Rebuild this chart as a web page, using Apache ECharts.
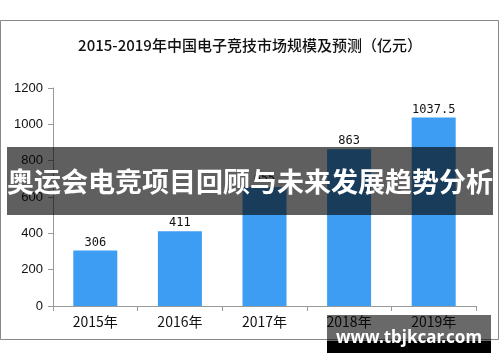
<!DOCTYPE html>
<html><head><meta charset="utf-8">
<script src="https://cdn.jsdelivr.net/npm/echarts@6/dist/echarts.min.js"></script>
<style>html,body{margin:0;padding:0;background:#fff}#c{width:500px;height:362px}</style>
</head><body><div id="c"></div>
<script>
const title = '2015-2019年中国电子竞技市场规模及预测（亿元）';
const categories = ['2015年','2016年','2017年','2018年','2019年'];
const values = [306, 411, 655, 863, 1037.5];
const yTicks = [0, 200, 400, 600, 800, 1000, 1200];
const bannerText = '奥运会电竞项目回顾与未来发展趋势分析';
const footerText = 'www.tbjkcar.com';

const chart = echarts.init(document.getElementById('c'), null, {renderer:'canvas'});
chart.setOption({
  animation:false,
  title:{text:title,left:'center',top:33,textStyle:{fontFamily:'Noto Sans CJK SC',fontSize:15,fontWeight:500,color:'#111'}},
  grid:{left:53,right:24,top:88,bottom:56},
  xAxis:{type:'category',data:categories,
    axisLine:{lineStyle:{color:'#999'}},
    axisTick:{show:true,length:5,lineStyle:{color:'#999'}},
    axisLabel:{color:'#111',fontSize:14,fontFamily:'Noto Sans CJK SC',margin:9}},
  yAxis:{type:'value',min:yTicks[0],max:yTicks[yTicks.length-1],interval:200,
    axisLine:{show:true,lineStyle:{color:'#999'}},
    axisTick:{show:true,length:5,lineStyle:{color:'#999'}},
    splitLine:{show:false},
    axisLabel:{color:'#111',fontSize:13,fontFamily:'Liberation Sans',margin:10,formatter:function(v){return String(v);}}},
  series:[{type:'bar',data:values,barWidth:'52%',
    itemStyle:{color:'#3d9df3'},
    label:{show:true,position:'top',distance:2,color:'#111',fontSize:12,fontFamily:'DejaVu Sans Mono'}}],
  graphic:[
    {type:'rect',z:-10,shape:{x:0.5,y:20.5,width:498,height:319},style:{fill:'none',stroke:'#888',lineWidth:1}},
    {type:'rect',z:100,shape:{x:7,y:147,width:486,height:68},style:{fill:'rgba(5,5,5,0.64)'}},
    {type:'text',z:101,x:250,y:182,style:{text:bannerText,fill:'#fff',font:'bold 27px "Noto Sans CJK SC"',textAlign:'center',textVerticalAlign:'middle'}},
    {type:'rect',z:100,shape:{x:327,y:315,width:164,height:26},style:{fill:'rgba(5,5,5,0.6)'}},
    {type:'rect',z:100,shape:{x:327,y:341,width:164,height:12},style:{fill:'#000'}},
    {type:'text',z:101,x:409,y:338,style:{text:footerText,fill:'#fff',font:'bold 17px "Noto Sans"',textAlign:'center',textVerticalAlign:'middle'}}
  ]
});
</script></body></html>
